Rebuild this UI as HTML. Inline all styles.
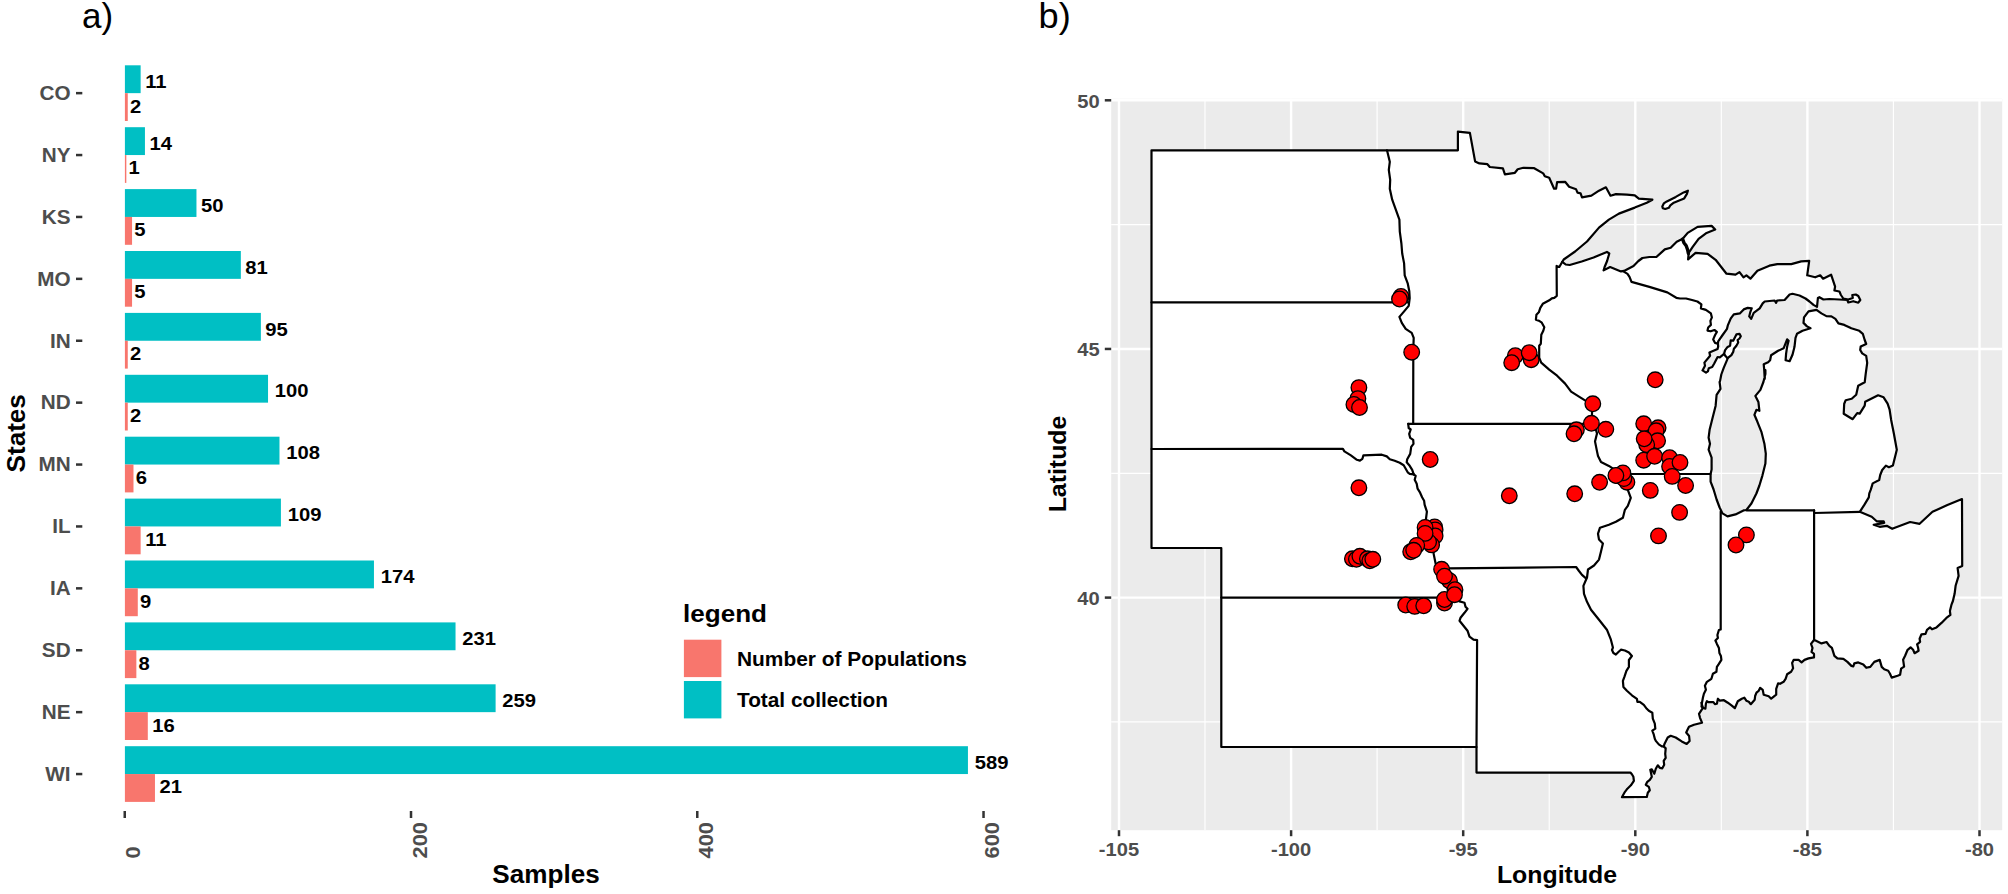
<!DOCTYPE html>
<html lang="en"><head><meta charset="utf-8"><title>Figure: samples per state and collection map</title>
<style>html,body{margin:0;padding:0;background:#fff;}svg{display:block;}text{font-family:"Liberation Sans", Arial, Helvetica, sans-serif;}</style>
</head><body>
<svg width="2008" height="894" viewBox="0 0 2008 894">
<rect width="2008" height="894" fill="#ffffff"/>
<g id="panel-a">
<text transform="translate(82.00,27.90)" font-size="35.0" fill="#000">a)</text>
<rect x="124.9" y="65.30" width="15.74" height="27.85" fill="#00BFC4"/>
<rect x="124.9" y="93.15" width="2.86" height="27.85" fill="#F8766D"/>
<text transform="translate(145.14,87.92) scale(1.070,1)" font-size="18.9" font-weight="700" fill="#000">11</text>
<text transform="translate(130.01,112.58) scale(1.070,1)" font-size="18.9" font-weight="700" fill="#000">2</text>
<text transform="translate(70.60,99.95) scale(1.015,1)" font-size="20.4" font-weight="700" fill="#4D4D4D" text-anchor="end">CO</text>
<rect x="76" y="91.90" width="6.3" height="2.5" fill="#333"/>
<rect x="124.9" y="127.20" width="20.04" height="27.85" fill="#00BFC4"/>
<rect x="124.9" y="155.05" width="1.43" height="27.85" fill="#F8766D"/>
<text transform="translate(149.44,149.82) scale(1.070,1)" font-size="18.9" font-weight="700" fill="#000">14</text>
<text transform="translate(128.58,174.47) scale(1.070,1)" font-size="18.9" font-weight="700" fill="#000">1</text>
<text transform="translate(70.60,161.85) scale(1.015,1)" font-size="20.4" font-weight="700" fill="#4D4D4D" text-anchor="end">NY</text>
<rect x="76" y="153.80" width="6.3" height="2.5" fill="#333"/>
<rect x="124.9" y="189.10" width="71.56" height="27.85" fill="#00BFC4"/>
<rect x="124.9" y="216.95" width="7.16" height="27.85" fill="#F8766D"/>
<text transform="translate(200.96,211.72) scale(1.070,1)" font-size="18.9" font-weight="700" fill="#000">50</text>
<text transform="translate(134.31,236.38) scale(1.070,1)" font-size="18.9" font-weight="700" fill="#000">5</text>
<text transform="translate(70.60,223.75) scale(1.015,1)" font-size="20.4" font-weight="700" fill="#4D4D4D" text-anchor="end">KS</text>
<rect x="76" y="215.70" width="6.3" height="2.5" fill="#333"/>
<rect x="124.9" y="251.00" width="115.94" height="27.85" fill="#00BFC4"/>
<rect x="124.9" y="278.85" width="7.16" height="27.85" fill="#F8766D"/>
<text transform="translate(245.33,273.62) scale(1.070,1)" font-size="18.9" font-weight="700" fill="#000">81</text>
<text transform="translate(134.31,298.28) scale(1.070,1)" font-size="18.9" font-weight="700" fill="#000">5</text>
<text transform="translate(70.60,285.65) scale(1.015,1)" font-size="20.4" font-weight="700" fill="#4D4D4D" text-anchor="end">MO</text>
<rect x="76" y="277.60" width="6.3" height="2.5" fill="#333"/>
<rect x="124.9" y="312.90" width="135.97" height="27.85" fill="#00BFC4"/>
<rect x="124.9" y="340.75" width="2.86" height="27.85" fill="#F8766D"/>
<text transform="translate(265.37,335.52) scale(1.070,1)" font-size="18.9" font-weight="700" fill="#000">95</text>
<text transform="translate(130.01,360.18) scale(1.070,1)" font-size="18.9" font-weight="700" fill="#000">2</text>
<text transform="translate(70.60,347.55) scale(1.015,1)" font-size="20.4" font-weight="700" fill="#4D4D4D" text-anchor="end">IN</text>
<rect x="76" y="339.50" width="6.3" height="2.5" fill="#333"/>
<rect x="124.9" y="374.80" width="143.13" height="27.85" fill="#00BFC4"/>
<rect x="124.9" y="402.65" width="2.86" height="27.85" fill="#F8766D"/>
<text transform="translate(274.78,397.43) scale(1.070,1)" font-size="18.9" font-weight="700" fill="#000">100</text>
<text transform="translate(130.01,422.08) scale(1.070,1)" font-size="18.9" font-weight="700" fill="#000">2</text>
<text transform="translate(70.60,409.45) scale(1.015,1)" font-size="20.4" font-weight="700" fill="#4D4D4D" text-anchor="end">ND</text>
<rect x="76" y="401.40" width="6.3" height="2.5" fill="#333"/>
<rect x="124.9" y="436.70" width="154.58" height="27.85" fill="#00BFC4"/>
<rect x="124.9" y="464.55" width="8.59" height="27.85" fill="#F8766D"/>
<text transform="translate(286.23,459.32) scale(1.070,1)" font-size="18.9" font-weight="700" fill="#000">108</text>
<text transform="translate(135.74,483.98) scale(1.070,1)" font-size="18.9" font-weight="700" fill="#000">6</text>
<text transform="translate(70.60,471.35) scale(1.015,1)" font-size="20.4" font-weight="700" fill="#4D4D4D" text-anchor="end">MN</text>
<rect x="76" y="463.30" width="6.3" height="2.5" fill="#333"/>
<rect x="124.9" y="498.60" width="156.01" height="27.85" fill="#00BFC4"/>
<rect x="124.9" y="526.45" width="15.74" height="27.85" fill="#F8766D"/>
<text transform="translate(287.66,521.23) scale(1.070,1)" font-size="18.9" font-weight="700" fill="#000">109</text>
<text transform="translate(145.14,545.88) scale(1.070,1)" font-size="18.9" font-weight="700" fill="#000">11</text>
<text transform="translate(70.60,533.25) scale(1.015,1)" font-size="20.4" font-weight="700" fill="#4D4D4D" text-anchor="end">IL</text>
<rect x="76" y="525.20" width="6.3" height="2.5" fill="#333"/>
<rect x="124.9" y="560.50" width="249.05" height="27.85" fill="#00BFC4"/>
<rect x="124.9" y="588.35" width="12.88" height="27.85" fill="#F8766D"/>
<text transform="translate(380.69,583.12) scale(1.070,1)" font-size="18.9" font-weight="700" fill="#000">174</text>
<text transform="translate(140.03,607.77) scale(1.070,1)" font-size="18.9" font-weight="700" fill="#000">9</text>
<text transform="translate(70.60,595.15) scale(1.015,1)" font-size="20.4" font-weight="700" fill="#4D4D4D" text-anchor="end">IA</text>
<rect x="76" y="587.10" width="6.3" height="2.5" fill="#333"/>
<rect x="124.9" y="622.40" width="330.63" height="27.85" fill="#00BFC4"/>
<rect x="124.9" y="650.25" width="11.45" height="27.85" fill="#F8766D"/>
<text transform="translate(462.28,645.02) scale(1.070,1)" font-size="18.9" font-weight="700" fill="#000">231</text>
<text transform="translate(138.60,669.67) scale(1.070,1)" font-size="18.9" font-weight="700" fill="#000">8</text>
<text transform="translate(70.60,657.05) scale(1.015,1)" font-size="20.4" font-weight="700" fill="#4D4D4D" text-anchor="end">SD</text>
<rect x="76" y="649.00" width="6.3" height="2.5" fill="#333"/>
<rect x="124.9" y="684.30" width="370.71" height="27.85" fill="#00BFC4"/>
<rect x="124.9" y="712.15" width="22.90" height="27.85" fill="#F8766D"/>
<text transform="translate(502.35,706.92) scale(1.070,1)" font-size="18.9" font-weight="700" fill="#000">259</text>
<text transform="translate(152.30,731.57) scale(1.070,1)" font-size="18.9" font-weight="700" fill="#000">16</text>
<text transform="translate(70.60,718.95) scale(1.015,1)" font-size="20.4" font-weight="700" fill="#4D4D4D" text-anchor="end">NE</text>
<rect x="76" y="710.90" width="6.3" height="2.5" fill="#333"/>
<rect x="124.9" y="746.20" width="843.04" height="27.85" fill="#00BFC4"/>
<rect x="124.9" y="774.05" width="30.06" height="27.85" fill="#F8766D"/>
<text transform="translate(974.68,768.82) scale(1.070,1)" font-size="18.9" font-weight="700" fill="#000">589</text>
<text transform="translate(159.45,793.47) scale(1.070,1)" font-size="18.9" font-weight="700" fill="#000">21</text>
<text transform="translate(70.60,780.85) scale(1.015,1)" font-size="20.4" font-weight="700" fill="#4D4D4D" text-anchor="end">WI</text>
<rect x="76" y="772.80" width="6.3" height="2.5" fill="#333"/>
<rect x="123.50" y="811" width="2.5" height="7" fill="#333"/>
<text transform="translate(140.30,858.40) rotate(-90) scale(1.070,1)" font-size="20.3" font-weight="700" fill="#4D4D4D">0</text>
<rect x="409.76" y="811" width="2.5" height="7" fill="#333"/>
<text transform="translate(426.56,858.40) rotate(-90) scale(1.070,1)" font-size="20.3" font-weight="700" fill="#4D4D4D">200</text>
<rect x="696.02" y="811" width="2.5" height="7" fill="#333"/>
<text transform="translate(712.82,858.40) rotate(-90) scale(1.070,1)" font-size="20.3" font-weight="700" fill="#4D4D4D">400</text>
<rect x="982.28" y="811" width="2.5" height="7" fill="#333"/>
<text transform="translate(999.08,858.40) rotate(-90) scale(1.070,1)" font-size="20.3" font-weight="700" fill="#4D4D4D">600</text>
<text transform="translate(546.00,882.60) scale(1.020,1)" font-size="25.6" font-weight="700" fill="#000" text-anchor="middle">Samples</text>
<text transform="translate(25.00,433.30) rotate(-90) scale(1.020,1)" font-size="25.6" font-weight="700" fill="#000" text-anchor="middle">States</text>
<text transform="translate(683.00,622.00) scale(1.064,1)" font-size="24.5" font-weight="700" fill="#000">legend</text>
<rect x="683.9" y="639.7" width="37.5" height="37.4" fill="#F8766D"/>
<rect x="683.9" y="681.0" width="37.5" height="37.4" fill="#00BFC4"/>
<text transform="translate(737.00,665.80) scale(1.067,1)" font-size="19.6" font-weight="700" fill="#000">Number of Populations</text>
<text transform="translate(737.00,706.80) scale(1.062,1)" font-size="19.6" font-weight="700" fill="#000">Total collection</text>
</g>
<g id="panel-b">
<text transform="translate(1038.60,27.90) scale(1.020,1)" font-size="35.5" fill="#000">b)</text>
<rect x="1111.2" y="98.8" width="891.0" height="731.4" fill="#EBEBEB"/>
<g stroke="#fff" fill="none">
<line x1="1205.0" x2="1205.0" y1="98.8" y2="830.2" stroke-width="1.15"/>
<line x1="1377.1" x2="1377.1" y1="98.8" y2="830.2" stroke-width="1.15"/>
<line x1="1549.2" x2="1549.2" y1="98.8" y2="830.2" stroke-width="1.15"/>
<line x1="1721.3" x2="1721.3" y1="98.8" y2="830.2" stroke-width="1.15"/>
<line x1="1893.4" x2="1893.4" y1="98.8" y2="830.2" stroke-width="1.15"/>
<line x1="1111.2" x2="2002.2" y1="224.6" y2="224.6" stroke-width="1.15"/>
<line x1="1111.2" x2="2002.2" y1="473.3" y2="473.3" stroke-width="1.15"/>
<line x1="1111.2" x2="2002.2" y1="721.9" y2="721.9" stroke-width="1.15"/>
<line x1="1119.0" x2="1119.0" y1="98.8" y2="830.2" stroke-width="2.4"/>
<line x1="1291.1" x2="1291.1" y1="98.8" y2="830.2" stroke-width="2.4"/>
<line x1="1463.2" x2="1463.2" y1="98.8" y2="830.2" stroke-width="2.4"/>
<line x1="1635.3" x2="1635.3" y1="98.8" y2="830.2" stroke-width="2.4"/>
<line x1="1807.4" x2="1807.4" y1="98.8" y2="830.2" stroke-width="2.4"/>
<line x1="1979.5" x2="1979.5" y1="98.8" y2="830.2" stroke-width="2.4"/>
<line x1="1111.2" x2="2002.2" y1="100.3" y2="100.3" stroke-width="2.4"/>
<line x1="1111.2" x2="2002.2" y1="349.0" y2="349.0" stroke-width="2.4"/>
<line x1="1111.2" x2="2002.2" y1="597.6" y2="597.6" stroke-width="2.4"/>
</g>
<rect x="1117.75" y="830.2" width="2.5" height="6" fill="#333"/>
<text transform="translate(1119.00,855.80) scale(1.060,1)" font-size="19.0" font-weight="700" fill="#4D4D4D" text-anchor="middle">-105</text>
<rect x="1289.85" y="830.2" width="2.5" height="6" fill="#333"/>
<text transform="translate(1291.10,855.80) scale(1.060,1)" font-size="19.0" font-weight="700" fill="#4D4D4D" text-anchor="middle">-100</text>
<rect x="1461.95" y="830.2" width="2.5" height="6" fill="#333"/>
<text transform="translate(1463.20,855.80) scale(1.060,1)" font-size="19.0" font-weight="700" fill="#4D4D4D" text-anchor="middle">-95</text>
<rect x="1634.05" y="830.2" width="2.5" height="6" fill="#333"/>
<text transform="translate(1635.30,855.80) scale(1.060,1)" font-size="19.0" font-weight="700" fill="#4D4D4D" text-anchor="middle">-90</text>
<rect x="1806.15" y="830.2" width="2.5" height="6" fill="#333"/>
<text transform="translate(1807.40,855.80) scale(1.060,1)" font-size="19.0" font-weight="700" fill="#4D4D4D" text-anchor="middle">-85</text>
<rect x="1978.25" y="830.2" width="2.5" height="6" fill="#333"/>
<text transform="translate(1979.50,855.80) scale(1.060,1)" font-size="19.0" font-weight="700" fill="#4D4D4D" text-anchor="middle">-80</text>
<rect x="1104.8" y="99.05" width="6.4" height="2.5" fill="#333"/>
<text transform="translate(1099.60,107.60) scale(1.060,1)" font-size="19.0" font-weight="700" fill="#4D4D4D" text-anchor="end">50</text>
<rect x="1104.8" y="347.70" width="6.4" height="2.5" fill="#333"/>
<text transform="translate(1099.60,356.25) scale(1.060,1)" font-size="19.0" font-weight="700" fill="#4D4D4D" text-anchor="end">45</text>
<rect x="1104.8" y="596.35" width="6.4" height="2.5" fill="#333"/>
<text transform="translate(1099.60,604.90) scale(1.060,1)" font-size="19.0" font-weight="700" fill="#4D4D4D" text-anchor="end">40</text>
<text transform="translate(1557.00,882.90) scale(1.068,1)" font-size="23.3" font-weight="700" fill="#000" text-anchor="middle">Longitude</text>
<text transform="translate(1065.80,464.00) rotate(-90) scale(1.068,1)" font-size="23.3" font-weight="700" fill="#000" text-anchor="middle">Latitude</text>
<g id="states" stroke="#000" stroke-width="2.2" stroke-linejoin="round" stroke-linecap="round">
<path fill="#fff" d="M1151.5 150.3 L1457.9 150.3 L1457.9 131.6 L1469.9 132.9 L1475.1 161.4 L1479.4 163.4 L1487.4 164.2 L1489.8 167.0 L1502.9 168.4 L1504.9 174.4 L1514.9 172.8 L1517.7 169.2 L1523.3 167.8 L1534.2 168.2 L1543.2 173.4 L1544.8 176.2 L1549.2 177.8 L1554.1 188.7 L1556.1 188.7 L1557.1 182.2 L1565.1 181.8 L1569.1 186.7 L1576.1 189.3 L1577.5 192.7 L1580.6 193.3 L1582.0 197.3 L1591.4 195.7 L1599.0 190.7 L1605.9 187.3 L1610.5 195.7 L1615.9 194.1 L1626.9 194.7 L1634.8 195.3 L1638.8 198.7 L1652.4 199.7 L1646.8 202.7 L1634.8 207.6 L1618.9 213.6 L1608.9 219.6 L1599.0 227.6 L1587.0 241.5 L1575.1 251.5 L1563.7 259.5 L1562.3 261.8 L1565.7 264.5 L1569.7 265.0 L1581.7 261.5 L1593.6 257.5 L1606.9 251.9 L1609.3 253.5 L1607.1 261.0 L1604.6 267.0 L1603.6 270.4 L1610.1 267.0 L1621.0 271.4 L1624.0 270.9 L1633.5 266.0 L1638.4 261.0 L1642.4 258.0 L1649.4 257.0 L1656.4 257.0 L1664.8 249.4 L1670.7 247.8 L1676.7 241.8 L1682.7 238.8 L1687.7 232.9 L1697.6 226.9 L1711.6 225.9 L1715.2 229.5 L1706.6 232.9 L1698.6 238.8 L1692.7 246.8 L1688.7 252.8 L1688.1 259.4 L1695.6 252.8 L1707.6 253.8 L1715.6 259.8 L1726.5 273.7 L1735.5 274.7 L1739.5 272.1 L1743.5 277.3 L1746.4 275.3 L1750.4 278.7 L1757.4 270.7 L1769.4 265.7 L1777.3 264.1 L1791.3 264.1 L1801.2 261.4 L1809.2 260.8 L1807.2 275.3 L1815.2 277.3 L1820.2 275.3 L1823.1 278.7 L1831.1 274.7 L1835.1 286.7 L1834.4 290.5 L1839.4 291.5 L1840.9 295.0 L1843.3 298.5 L1848.3 299.5 L1852.8 298.0 L1852.3 295.0 L1855.8 294.5 L1858.3 296.0 L1860.3 300.0 L1858.3 302.7 L1853.3 301.2 L1848.3 302.5 L1847.3 300.0 L1839.4 299.5 L1829.4 299.0 L1823.4 299.5 L1819.4 297.2 L1817.9 298.0 L1817.0 306.9 L1813.5 304.9 L1809.5 301.5 L1805.5 298.5 L1799.5 295.5 L1792.5 293.8 L1789.6 294.5 L1784.6 300.0 L1777.1 300.5 L1776.1 302.9 L1774.6 300.5 L1764.7 301.5 L1762.7 303.4 L1759.7 308.4 L1753.7 312.9 L1751.2 318.9 L1749.2 316.4 L1750.2 312.4 L1751.7 308.4 L1747.7 307.9 L1743.7 309.4 L1739.8 313.4 L1733.8 314.4 L1730.8 318.4 L1727.8 325.4 L1727.0 328.8 L1722.6 335.0 L1718.2 341.3 L1717.9 343.8 L1718.2 346.3 L1717.6 349.1 L1709.4 352.6 L1710.1 355.7 L1704.4 362.6 L1705.0 365.7 L1702.5 370.4 L1706.0 372.6 L1707.9 371.4 L1708.8 368.2 L1712.2 367.0 L1714.1 363.8 L1717.6 357.0 L1719.8 357.3 L1724.1 353.8 L1725.1 350.1 L1727.6 346.9 L1730.1 345.7 L1730.7 340.4 L1733.2 340.7 L1736.4 334.4 L1739.5 333.8 L1740.8 336.3 L1739.5 338.5 L1737.6 340.0 L1738.2 342.5 L1736.4 345.7 L1733.9 348.8 L1733.2 351.9 L1731.4 355.1 L1727.6 358.2 L1727.0 360.1 L1723.8 367.6 L1721.3 374.5 L1720.1 380.9 L1719.6 382.0 L1720.5 388.9 L1716.6 394.9 L1715.6 405.9 L1712.6 417.8 L1709.6 429.8 L1708.6 437.7 L1710.0 443.7 L1708.6 449.7 L1711.6 457.6 L1711.6 469.6 L1710.6 474.0 L1710.6 481.6 L1713.6 489.5 L1716.6 499.5 L1719.6 507.5 L1722.5 513.4 L1727.5 516.4 L1735.5 514.4 L1743.5 510.4 L1746.4 510.0 L1751.4 503.5 L1756.4 493.5 L1759.4 485.5 L1762.4 475.6 L1765.4 463.6 L1765.8 453.7 L1764.4 443.7 L1761.4 431.8 L1757.4 421.8 L1754.4 414.8 L1756.4 409.8 L1759.4 410.8 L1758.4 401.9 L1755.4 395.9 L1760.4 389.9 L1763.4 382.0 L1765.4 374.0 L1765.4 370.0 L1764.7 378.8 L1764.2 369.7 L1763.7 364.2 L1768.1 362.2 L1770.1 360.2 L1771.1 355.2 L1778.1 350.8 L1783.6 348.3 L1787.1 339.3 L1788.6 340.8 L1787.1 346.8 L1786.1 353.7 L1785.6 360.2 L1789.6 361.2 L1792.5 354.7 L1794.5 346.8 L1795.5 337.8 L1797.0 333.8 L1802.5 330.8 L1810.5 328.3 L1807.0 326.4 L1803.5 322.9 L1804.0 317.4 L1808.5 311.4 L1816.5 309.9 L1821.4 313.4 L1826.4 316.1 L1831.4 316.4 L1835.4 318.9 L1838.4 323.4 L1844.3 324.9 L1851.3 328.3 L1859.3 330.8 L1862.8 333.8 L1864.7 340.0 L1866.2 344.0 L1860.7 346.5 L1860.2 350.0 L1862.2 353.4 L1866.2 355.9 L1867.2 362.9 L1865.7 373.9 L1864.7 382.3 L1858.2 385.8 L1856.2 394.8 L1851.7 398.8 L1845.7 400.3 L1844.2 403.7 L1843.7 413.7 L1852.7 419.2 L1857.2 413.2 L1859.7 413.7 L1864.7 405.7 L1865.2 401.8 L1878.1 395.3 L1883.6 397.3 L1887.6 403.7 L1889.6 409.7 L1891.1 419.7 L1893.9 433.7 L1896.8 449.7 L1894.9 457.6 L1892.9 465.6 L1888.9 467.2 L1885.9 465.6 L1882.2 470.0 L1880.2 475.0 L1879.2 480.0 L1872.7 483.4 L1870.7 489.9 L1869.3 493.4 L1868.8 497.4 L1864.3 504.9 L1859.8 511.8 L1871.7 516.8 L1876.7 521.3 L1883.7 521.3 L1884.2 522.8 L1873.7 524.8 L1879.7 526.8 L1886.7 525.8 L1892.2 528.8 L1910.1 522.0 L1919.6 523.8 L1932.5 511.8 L1947.4 505.1 L1962.0 499.1 L1962.2 565.9 L1957.6 567.9 L1958.6 575.9 L1955.6 585.8 L1954.6 593.8 L1952.9 601.0 L1951.4 604.9 L1949.9 610.9 L1950.4 614.9 L1946.4 617.9 L1941.5 622.9 L1936.5 627.4 L1932.0 629.3 L1930.0 627.4 L1927.0 629.8 L1925.5 633.8 L1921.5 634.3 L1919.6 638.8 L1920.1 641.8 L1917.1 644.3 L1918.1 647.8 L1918.6 650.8 L1914.6 653.2 L1913.1 649.8 L1910.6 647.3 L1907.6 649.8 L1905.1 655.7 L1903.1 659.7 L1904.1 666.7 L1901.1 668.7 L1900.1 674.7 L1897.6 675.7 L1891.7 677.6 L1890.0 673.8 L1888.2 670.8 L1884.2 669.3 L1881.7 666.9 L1879.7 659.9 L1874.3 661.9 L1870.3 666.9 L1866.3 667.8 L1863.3 664.4 L1858.3 662.4 L1854.3 663.4 L1853.3 666.4 L1851.4 665.9 L1847.4 661.9 L1843.4 658.9 L1837.4 658.4 L1834.4 655.9 L1831.9 647.9 L1829.4 645.9 L1826.5 642.0 L1821.5 643.4 L1815.5 640.5 L1814.0 640.0 L1811.0 643.9 L1812.5 647.9 L1811.5 651.9 L1814.0 653.9 L1814.0 657.4 L1808.5 658.4 L1804.5 659.9 L1801.6 662.4 L1798.6 659.9 L1793.6 659.9 L1792.1 662.9 L1793.1 668.3 L1791.1 671.8 L1787.1 674.3 L1785.6 678.8 L1783.6 681.8 L1780.1 683.8 L1778.1 683.3 L1776.2 688.8 L1776.2 694.7 L1771.2 698.7 L1768.7 696.2 L1763.7 694.7 L1762.7 689.8 L1760.2 687.8 L1758.7 690.8 L1756.7 692.3 L1755.2 695.7 L1754.7 699.7 L1750.8 704.2 L1748.8 701.7 L1746.3 700.7 L1744.3 697.7 L1741.8 698.7 L1737.8 701.2 L1736.3 704.7 L1734.8 708.2 L1731.8 705.7 L1727.8 702.7 L1723.9 700.2 L1719.9 700.7 L1717.9 698.7 L1716.9 703.7 L1714.9 704.2 L1713.4 702.2 L1708.4 702.2 L1706.9 701.2 L1705.9 703.7 L1705.4 708.7 L1702.9 707.7 L1701.4 702.8 L1702.9 707.8 L1699.0 713.8 L1700.0 717.8 L1702.0 722.7 L1694.0 724.7 L1689.0 726.7 L1688.1 728.5 L1686.2 732.5 L1689.1 736.0 L1689.6 740.9 L1686.7 743.9 L1681.7 741.4 L1675.7 737.5 L1670.7 735.8 L1667.7 737.5 L1664.7 743.4 L1663.7 746.4 L1665.7 748.4 L1665.2 753.9 L1665.7 757.9 L1663.7 760.9 L1664.2 764.8 L1662.3 768.3 L1659.8 767.8 L1657.8 765.3 L1655.8 768.8 L1654.3 773.8 L1651.8 769.3 L1650.3 769.8 L1651.8 776.8 L1649.8 779.8 L1647.3 781.8 L1645.8 784.8 L1648.8 786.8 L1649.8 790.2 L1647.8 792.7 L1646.8 796.9 L1621.9 797.2 L1624.4 792.7 L1627.4 788.7 L1630.9 785.3 L1633.9 780.8 L1633.4 776.8 L1631.9 774.3 L1630.4 772.6 L1476.5 772.6 L1476.5 747.0 L1221.3 747.0 L1221.3 548.0 L1151.5 548.0 Z"/>
<path fill="#fff" d="M1662.3 206.4 L1663.8 203.4 L1666.8 201.4 L1675.8 196.9 L1683.7 192.4 L1687.9 190.7 L1686.9 193.9 L1684.2 198.4 L1679.8 200.2 L1673.8 202.7 L1670.3 205.4 L1668.8 207.8 L1665.3 209.0 L1662.8 208.3 Z"/>
<path fill="none" d="M1151.5 302.4 L1408.5 302.4"/>
<path fill="none" d="M1151.5 449.0 L1342.9 448.9 L1344.4 451.4 L1350.9 455.4 L1356.9 459.8 L1359.9 460.6 L1362.4 458.8 L1363.4 455.4 L1369.8 455.1 L1381.8 454.7 L1386.8 456.4 L1389.8 459.3 L1394.7 460.8 L1399.7 462.8 L1403.7 465.3 L1405.7 468.8 L1407.7 472.3 L1409.7 473.8 L1413.7 474.3"/>
<path fill="none" d="M1221.3 597.6 L1459.5 597.6"/>
<path fill="none" d="M1387.0 150.3 L1389.8 161.8 L1388.8 169.8 L1390.2 179.8 L1389.8 188.7 L1392.2 199.7 L1395.8 209.6 L1399.4 219.6 L1399.8 231.6 L1401.4 243.5 L1402.2 253.5 L1404.1 263.4 L1404.7 275.4 L1407.7 283.3 L1409.3 291.3 L1409.7 298.0 L1408.7 305.9 L1403.7 311.9 L1399.4 316.9 L1401.8 322.9 L1405.7 328.8 L1411.7 332.8 L1413.7 337.8 L1413.3 349.8 L1413.2 423.8"/>
<path fill="none" d="M1408.2 423.8 L1594.0 423.8"/>
<path fill="none" d="M1408.2 423.8 L1408.7 428.0 L1410.7 429.5 L1409.2 433.9 L1410.2 437.9 L1413.2 439.9 L1413.5 443.9 L1411.2 446.9 L1410.2 453.9 L1407.2 459.3 L1406.7 462.3 L1409.7 465.8 L1412.2 469.8 L1413.7 474.3"/>
<path fill="none" d="M1413.7 474.3 L1415.7 475.8 L1414.7 479.8 L1416.7 483.7 L1417.6 488.7 L1420.1 492.7 L1422.1 497.2 L1424.1 500.7 L1424.6 504.7 L1426.9 511.6 L1425.9 519.5 L1427.6 523.7 L1429.6 529.7 L1432.6 537.6 L1433.6 545.6 L1433.6 553.6 L1435.6 563.5 L1437.6 569.5 L1439.6 573.5 L1445.6 585.5 L1451.6 593.4 L1459.5 601.4 L1464.5 602.8 L1465.5 606.8 L1467.5 608.8 L1464.5 612.8 L1460.5 617.8 L1459.5 620.8 L1463.5 625.7 L1467.5 630.7 L1469.5 636.7 L1473.5 639.7 L1477.1 640.1 L1476.5 747.0"/>
<path fill="none" d="M1447.6 568.4 L1576.1 567.0 L1579.0 571.0 L1582.0 574.9 L1586.0 578.3"/>
<path fill="none" d="M1562.3 261.8 L1559.3 267.0 L1556.6 266.0 L1556.8 295.8 L1554.3 297.8 L1551.8 298.3 L1549.3 300.3 L1542.8 303.8 L1540.3 307.8 L1538.8 312.3 L1536.4 314.8 L1535.9 319.7 L1538.8 320.7 L1541.8 322.7 L1544.3 327.2 L1543.3 330.7 L1541.3 334.7 L1540.8 343.8 L1539.2 345.8 L1539.2 357.7 L1541.2 362.7 L1549.2 369.7 L1557.1 375.7 L1565.1 383.6 L1571.1 391.6 L1579.0 396.6 L1587.0 401.6 L1592.0 409.5 L1592.0 417.5 L1594.0 423.5 L1597.0 433.4 L1595.0 441.4 L1597.0 451.4 L1598.0 456.0 L1601.0 462.0 L1608.9 465.9 L1614.9 469.9 L1622.9 473.9 L1628.8 479.9 L1627.8 489.8 L1630.8 497.8 L1627.8 505.8 L1624.9 509.8 L1622.9 517.7 L1615.9 521.7 L1608.9 524.7 L1600.0 527.7 L1598.0 533.7 L1599.0 539.6 L1602.9 543.6 L1601.0 551.6 L1599.0 559.6 L1594.0 565.5 L1588.0 569.5 L1587.0 577.5 L1583.4 585.9 L1584.0 593.9 L1587.0 601.8 L1591.0 609.8 L1599.0 619.8 L1606.9 629.7 L1610.9 639.7 L1612.9 647.6 L1612.0 650.0 L1613.4 653.0 L1615.9 654.5 L1618.4 652.0 L1620.9 649.7 L1624.9 650.5 L1628.9 652.5 L1631.9 656.0 L1628.9 660.0 L1628.9 666.9 L1626.4 670.9 L1624.4 676.9 L1622.9 680.9 L1623.4 686.9 L1626.9 690.8 L1631.9 695.3 L1636.9 698.8 L1637.4 701.8 L1639.8 701.8 L1643.8 704.8 L1646.8 708.8 L1648.8 710.8 L1652.3 712.7 L1652.8 718.7 L1654.8 723.7 L1655.3 728.7 L1652.3 730.7 L1653.8 734.7 L1654.8 738.8 L1655.8 740.9 L1658.8 744.4 L1661.8 746.4 L1663.7 746.4"/>
<path fill="none" d="M1628.0 474.0 L1710.5 474.0"/>
<path fill="none" d="M1623.0 271.1 L1627.5 273.9 L1629.5 276.9 L1631.5 281.9 L1649.4 286.9 L1667.3 292.4 L1676.3 297.8 L1680.0 298.5 L1686.0 298.5 L1692.0 300.0 L1697.4 301.5 L1701.4 304.4 L1700.9 308.4 L1705.9 309.9 L1710.9 313.4 L1711.9 317.4 L1710.4 320.9 L1710.9 324.9 L1708.2 327.5 L1707.5 330.6 L1710.7 331.3 L1714.4 330.0 L1716.9 331.9 L1715.1 335.0 L1713.2 339.4 L1715.1 342.9 L1717.9 343.8"/>
<path fill="none" d="M1720.7 511.5 L1720.7 629.5 L1718.9 630.0 L1717.4 635.0 L1717.9 638.0 L1715.4 640.5 L1716.9 643.9 L1718.9 647.9 L1719.4 652.9 L1720.9 655.9 L1721.4 659.9 L1718.9 663.9 L1716.9 666.9 L1716.4 671.8 L1712.9 673.8 L1711.4 678.8 L1706.9 681.8 L1704.9 685.8 L1705.9 689.8 L1703.9 693.7 L1702.9 697.7 L1702.0 702.7 L1701.5 706.7 L1702.9 707.7"/>
<path fill="none" d="M1746.4 510.3 L1814.1 510.4"/>
<path fill="none" d="M1814.1 510.4 L1814.1 640.0"/>
<path fill="none" d="M1814.1 513.0 L1860.0 511.8"/>
<path fill="none" d="M1724.1 353.8 L1725.7 356.3 L1727.6 358.2"/>
<path fill="none" stroke-width="3.4" d="M1682.6 239.2 L1683.9 242.7 L1686.2 245.7 L1687.6 249.7 L1688.4 253.5"/>
</g>
<g id="sites" fill="#FF0000" stroke="#000" stroke-width="1.3">
<circle cx="1401.0" cy="296.5" r="7.8"/>
<circle cx="1399.5" cy="299.0" r="7.8"/>
<circle cx="1411.7" cy="352.2" r="7.8"/>
<circle cx="1358.9" cy="387.6" r="7.8"/>
<circle cx="1357.9" cy="398.6" r="7.8"/>
<circle cx="1353.9" cy="404.5" r="7.8"/>
<circle cx="1359.5" cy="407.5" r="7.8"/>
<circle cx="1515.3" cy="355.7" r="7.8"/>
<circle cx="1531.2" cy="359.7" r="7.8"/>
<circle cx="1511.7" cy="362.7" r="7.8"/>
<circle cx="1529.2" cy="352.7" r="7.8"/>
<circle cx="1655.2" cy="379.8" r="7.8"/>
<circle cx="1592.8" cy="403.8" r="7.8"/>
<circle cx="1576.4" cy="429.8" r="7.8"/>
<circle cx="1574.0" cy="433.8" r="7.8"/>
<circle cx="1605.8" cy="429.3" r="7.8"/>
<circle cx="1591.4" cy="423.3" r="7.8"/>
<circle cx="1658.1" cy="427.8" r="7.8"/>
<circle cx="1643.7" cy="423.8" r="7.8"/>
<circle cx="1656.1" cy="430.8" r="7.8"/>
<circle cx="1657.6" cy="440.8" r="7.8"/>
<circle cx="1646.7" cy="444.7" r="7.8"/>
<circle cx="1644.2" cy="438.8" r="7.8"/>
<circle cx="1643.7" cy="460.2" r="7.8"/>
<circle cx="1654.6" cy="456.3" r="7.8"/>
<circle cx="1669.6" cy="457.7" r="7.8"/>
<circle cx="1669.6" cy="466.5" r="7.8"/>
<circle cx="1680.0" cy="462.5" r="7.8"/>
<circle cx="1672.2" cy="476.4" r="7.8"/>
<circle cx="1685.6" cy="485.5" r="7.8"/>
<circle cx="1617.0" cy="475.6" r="7.8"/>
<circle cx="1626.9" cy="482.2" r="7.8"/>
<circle cx="1623.9" cy="478.6" r="7.8"/>
<circle cx="1622.9" cy="472.9" r="7.8"/>
<circle cx="1615.9" cy="475.5" r="7.8"/>
<circle cx="1599.6" cy="482.3" r="7.8"/>
<circle cx="1574.7" cy="493.8" r="7.8"/>
<circle cx="1509.3" cy="495.8" r="7.8"/>
<circle cx="1650.3" cy="490.4" r="7.8"/>
<circle cx="1679.6" cy="512.4" r="7.8"/>
<circle cx="1658.5" cy="535.9" r="7.8"/>
<circle cx="1746.4" cy="534.9" r="7.8"/>
<circle cx="1736.0" cy="545.0" r="7.8"/>
<circle cx="1430.2" cy="459.5" r="7.8"/>
<circle cx="1358.9" cy="487.8" r="7.8"/>
<circle cx="1434.6" cy="526.9" r="7.8"/>
<circle cx="1435.1" cy="529.9" r="7.8"/>
<circle cx="1435.1" cy="535.9" r="7.8"/>
<circle cx="1431.6" cy="544.9" r="7.8"/>
<circle cx="1428.6" cy="541.9" r="7.8"/>
<circle cx="1425.1" cy="527.4" r="7.8"/>
<circle cx="1425.1" cy="533.4" r="7.8"/>
<circle cx="1416.7" cy="545.4" r="7.8"/>
<circle cx="1410.7" cy="551.8" r="7.8"/>
<circle cx="1413.7" cy="550.3" r="7.8"/>
<circle cx="1352.4" cy="558.8" r="7.8"/>
<circle cx="1356.4" cy="559.3" r="7.8"/>
<circle cx="1359.9" cy="556.3" r="7.8"/>
<circle cx="1367.4" cy="558.8" r="7.8"/>
<circle cx="1369.8" cy="560.8" r="7.8"/>
<circle cx="1372.8" cy="559.3" r="7.8"/>
<circle cx="1441.6" cy="569.3" r="7.8"/>
<circle cx="1449.5" cy="580.7" r="7.8"/>
<circle cx="1444.5" cy="576.2" r="7.8"/>
<circle cx="1455.0" cy="589.7" r="7.8"/>
<circle cx="1444.5" cy="603.0" r="7.8"/>
<circle cx="1444.5" cy="599.5" r="7.8"/>
<circle cx="1454.5" cy="594.7" r="7.8"/>
<circle cx="1405.7" cy="605.0" r="7.8"/>
<circle cx="1414.7" cy="606.4" r="7.8"/>
<circle cx="1423.7" cy="605.8" r="7.8"/>
</g>
</g>
</svg>
</body></html>
